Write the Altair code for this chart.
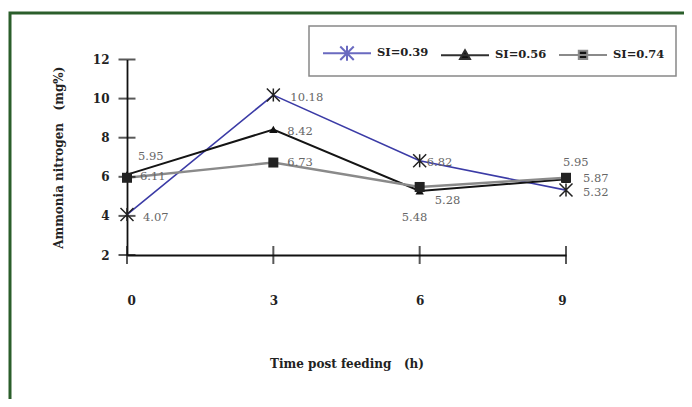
import altair as alt
import pandas as pd

# ---------------- data ----------------
TIME = [0, 3, 6, 9]
SERIES = ["SI=0.39", "SI=0.56", "SI=0.74"]
SI_039 = [4.07, 10.18, 6.82, 5.32]
SI_056 = [6.11, 8.42, 5.28, 5.87]
SI_074 = [5.95, 6.73, 5.48, 5.95]
Y_TICKS = [2, 4, 6, 8, 10, 12]
X_TICKS = [0, 3, 6, 9]
X_TITLE = "Time post feeding\u00a0\u00a0\u00a0(h)"
Y_TITLE = "Ammonia nitrogen\u00a0\u00a0\u00a0(mg%)"

rows = []
for s, vals in zip(SERIES, [SI_039, SI_056, SI_074]):
    for t, v in zip(TIME, vals):
        rows.append({"time": t, "value": v, "series": s})
df = pd.DataFrame(rows)
ytick_df = pd.DataFrame({"time": [0] * len(Y_TICKS), "value": Y_TICKS})
xtick_df = pd.DataFrame({"time": X_TICKS, "value": [2] * len(X_TICKS)})

# ---------------- style ----------------
LINE_COLORS = ["#3b3ba6", "#141414", "#8a8a8a"]
LEGEND_LINE_COLORS = ["#6a6ac0", "#303030", "#8a8a8a"]
LINE_WIDTHS = [1.6, 2.0, 2.4]
FRAME = "#2b5e2b"
SERIF = "DejaVu Serif"
ASTERISK = "M-1,-1L1,1M-1,1L1,-1M0,-1L0,1"
# legend symbols (unit = 15 px): line segment plus marker
LEGEND_PATHS = [
    "M-1.6,0L1.6,0M-0.45,-0.45L0.45,0.45M-0.45,0.45L0.45,-0.45M0,-0.5L0,0.5",
    "M-1.6,0L1.6,0M0,-0.33L0.33,0.25L-0.33,0.25Z",
    "M-1.6,0L1.6,0M-0.28,-0.28L0.28,-0.28L0.28,0.28L-0.28,0.28Z",
]
# label offsets (dx, dy) per (series, time)
LABEL_POS = {
    ("SI=0.39", 0): (16, 3.5),
    ("SI=0.39", 3): (17, 3),
    ("SI=0.39", 6): (7, 2),
    ("SI=0.39", 9): (17, 3),
    ("SI=0.56", 0): (13, 2.5),
    ("SI=0.56", 3): (14, 2.5),
    ("SI=0.56", 6): (15, 10),
    ("SI=0.56", 9): (17, 0),
    ("SI=0.74", 0): (11, -21),
    ("SI=0.74", 3): (14, 0.5),
    ("SI=0.74", 6): (-18, 31),
    ("SI=0.74", 9): (-3, -15),
}

# svg is 676 x 391 (fits the window with the 8px page margin);
# the framed view runs past the right and bottom edges and is clipped there
W, H = 684, 396
PAD = {"left": 2, "top": 5, "right": -10, "bottom": -10}

x = alt.X(
    "time:Q",
    scale=alt.Scale(domain=[0, 9], range=[117, 556], nice=False, zero=False),
    axis=alt.Axis(
        values=X_TICKS, offset=-(H - 242), ticks=False, grid=False, labelPadding=40,
        domainColor="#111", domainWidth=1.8, title=X_TITLE, titleY=108,
        titleBaseline="middle", labelFont=SERIF, labelFontWeight="bold",
        labelFontSize=12, labelColor="#222", titleFont=SERIF, titleFontWeight="bold",
        titleFontSize=12, titleColor="#222",
    ),
)
y = alt.Y(
    "value:Q",
    scale=alt.Scale(domain=[2, 12], range=[242, 46.5], nice=False, zero=False),
    axis=alt.Axis(
        values=Y_TICKS, offset=-117, ticks=False, grid=False, labelPadding=18,
        domainColor="#111", domainWidth=1.8, title=Y_TITLE, titleX=-69,
        titleBaseline="middle", labelFont=SERIF, labelFontWeight="bold",
        labelFontSize=12, labelColor="#222", titleFont=SERIF, titleFontWeight="bold",
        titleFontSize=12, titleColor="#222",
    ),
)

line_layers = []
for s, c, w in zip(SERIES, LINE_COLORS, LINE_WIDTHS):
    line_layers.append(
        alt.Chart(df).transform_filter(alt.datum.series == s)
        .mark_line(color=c, strokeWidth=w).encode(x=x, y=y)
    )

yticks = alt.Chart(ytick_df).mark_tick(orient="horizontal", size=17, thickness=2, color="#111").encode(x=x, y=y)
xticks = alt.Chart(xtick_df).mark_tick(orient="vertical", size=18, thickness=2, color="#111").encode(x=x, y=y)

m1 = alt.Chart(df).transform_filter(alt.datum.series == SERIES[0]).mark_point(
    shape=ASTERISK, size=169, filled=False, stroke="#222", strokeWidth=1.5, opacity=1
).encode(x=x, y=y)
m2 = alt.Chart(df).transform_filter(alt.datum.series == SERIES[1]).mark_point(
    shape="triangle-up", size=70, filled=True, color="#111", opacity=1
).encode(x=x, y=y)
m3 = alt.Chart(df).transform_filter(alt.datum.series == SERIES[2]).mark_point(
    shape="square", size=100, filled=True, color="#222", opacity=1
).encode(x=x, y=y)

text_layers = []
for (s, t), (dx, dy) in LABEL_POS.items():
    text_layers.append(
        alt.Chart(df)
        .transform_filter((alt.datum.series == s) & (alt.datum.time == t))
        .mark_text(dx=dx, dy=dy, align="left", baseline="middle", font=SERIF, fontSize=11.5, color="#666")
        .encode(x=x, y=y, text=alt.Text("value:Q", format=".2f"))
    )

leg = dict(orient="none", legendX=299, legendY=13, direction="horizontal", title=None, symbolOpacity=1)
legend_layer = alt.Chart(df).mark_point(filled=True, color="#111", opacity=0).encode(
    x=x, y=y,
    shape=alt.Shape("series:N", scale=alt.Scale(domain=SERIES, range=LEGEND_PATHS),
                    legend=alt.Legend(**leg)),
    stroke=alt.Stroke("series:N", scale=alt.Scale(domain=SERIES, range=LEGEND_LINE_COLORS),
                      legend=alt.Legend(**leg)),
)

chart = (
    alt.layer(*line_layers, yticks, xticks, m1, m2, m3, *text_layers, legend_layer)
    .properties(width=W, height=H, autosize=alt.AutoSizeParams(type="none"),
                padding=PAD, background="white")
    .configure_view(stroke=FRAME, strokeWidth=3)
    .configure_legend(
        padding=11, strokeColor="#888", strokeWidth=1.5, symbolSize=900,
        symbolStrokeWidth=2, labelFont=SERIF, labelFontWeight="bold",
        labelFontSize=11.5, labelColor="#222", labelOffset=14, columnPadding=8,
        symbolOffset=11,
    )
)

chart.save("out.html", embed_options={"renderer": "svg", "actions": False})
